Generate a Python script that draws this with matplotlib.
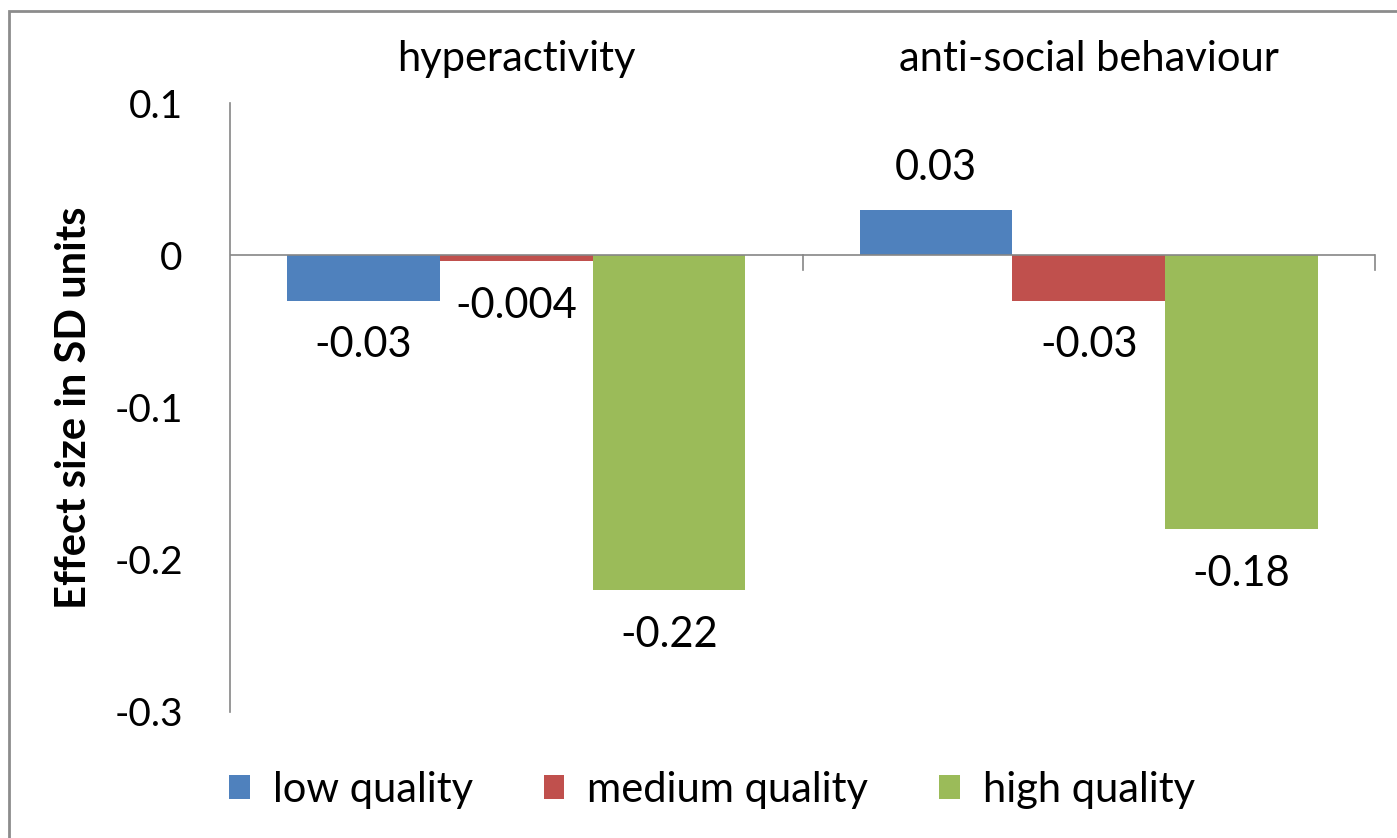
import matplotlib.pyplot as plt
import numpy as np

# данные
categories = ['hyperactivity', 'anti-social behaviour']
series = ['low quality', 'medium quality', 'high quality']
low = [-0.03, 0.03]
medium = [-0.004, -0.03]
high = [-0.22, -0.18]
labels_low = ['-0.03', '0.03']
labels_medium = ['-0.004', '-0.03']
labels_high = ['-0.22', '-0.18']
colors = ['#4F81BD', '#C0504D', '#9BBB59']

plt.rcParams['font.family'] = ['Lato', 'DejaVu Sans']

fig = plt.figure(figsize=(13.97, 8.38), dpi=100)
ax = fig.add_axes([230 / 1397, 1 - 712 / 838, (1375 - 230) / 1397, (712 - 103) / 838])

x = np.arange(len(categories))
w = 0.8 / 3
values = [low, medium, high]
texts = [labels_low, labels_medium, labels_high]
for i in range(3):
    pos = x + (i - 1) * w
    ax.bar(pos, values[i], w, color=colors[i], label=series[i], zorder=2)
    for xp, v, t in zip(pos, values[i], texts[i]):
        off = 30 if v > 0 else -32
        ax.annotate(t, (xp, v), xytext=(0, off), textcoords='offset points',
                    ha='center', va='center', fontsize=30)

ax.set_xlim(-0.5, 1.5)
ax.set_ylim(-0.3, 0.1)
ax.set_yticks([0.1, 0, -0.1, -0.2, -0.3])
ax.set_yticklabels(['0.1', '0', '-0.1', '-0.2', '-0.3'], fontsize=28)
ax.tick_params(axis='y', length=0, pad=34)

# ось категорий на нуле
for s in ['top', 'right', 'bottom']:
    ax.spines[s].set_visible(False)
ax.spines['left'].set_color('#868686')
ax.spines['left'].set_linewidth(1.2)
ax.axhline(0, color='#868686', lw=1.2, zorder=3)
ax.set_xticks([])
for xt in [0.5, 1.5]:
    ax.plot([xt, xt], [0, -0.01], color='#868686', lw=1.2, clip_on=False, zorder=3)

for xi, c in zip(x, categories):
    ax.text(xi, 0.1165, c, ha='center', va='bottom', fontsize=30)

ax.set_ylabel('Effect size in SD units', fontsize=30, fontweight='bold')
ax.yaxis.set_label_coords(-0.12, 0.5)

leg = fig.legend(loc='center', bbox_to_anchor=(712 / 1397, 1 - 790 / 838), ncol=3,
                 frameon=False, fontsize=30, handlelength=0.5, handleheight=0.5,
                 handletextpad=0.55, columnspacing=1.7)

# рамка вокруг рисунка
fig.patches.append(plt.Rectangle((9 / 1397, -0.02), 1.1, 1 - 11 / 838 + 0.02,
                                 transform=fig.transFigure, fill=False,
                                 edgecolor='#8C8C8C', lw=2))

fig.savefig('out.png', dpi=100)
